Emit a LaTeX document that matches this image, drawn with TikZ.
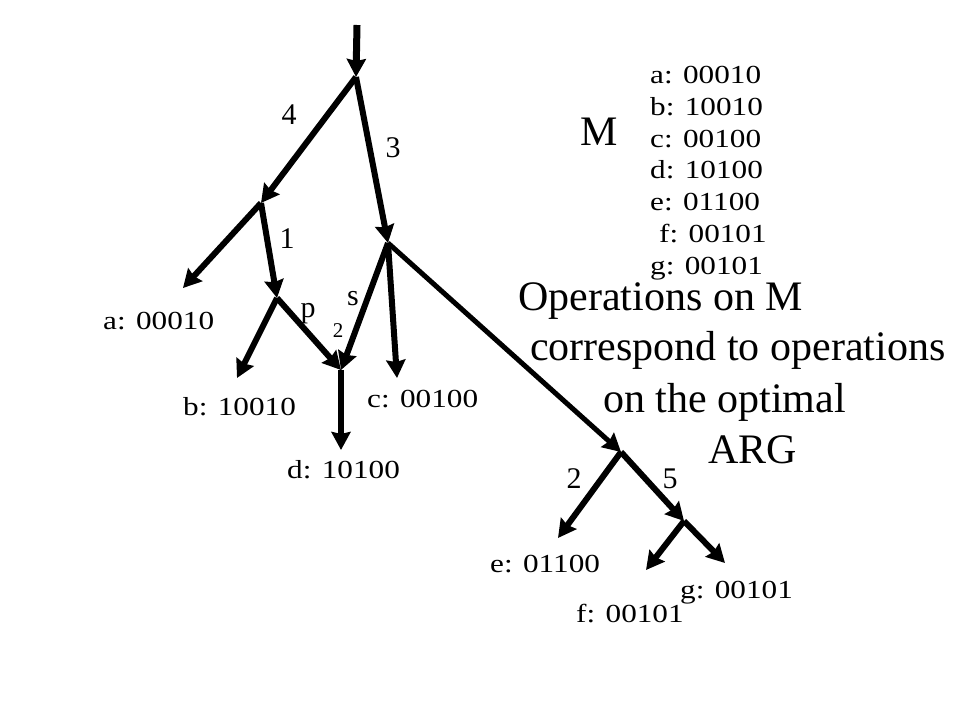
\documentclass[tikz,border=0pt]{standalone}
\usepackage{fontspec}
\setmainfont{Liberation Serif}
\usepackage{graphicx}
\usetikzlibrary{arrows.meta}
\newcommand{\stretchtxt}[1]{\scalebox{1.2}[1]{#1}}
\tikzset{
  edge/.style={line width=6pt,-{Stealth[length=18pt,width=19pt,inset=2pt]}},
  lbl/.style={font=\fontsize{30}{30}\selectfont,anchor=base,inner sep=0pt},
  smalllbl/.style={font=\fontsize{21}{21}\selectfont,anchor=base,inner sep=0pt},
  leaf/.style={font=\fontsize{26}{26}\selectfont,anchor=base west,inner sep=0pt,text height=0.7em,text depth=0.2em},
  big/.style={font=\fontsize{42}{42}\selectfont,anchor=base west,inner sep=0pt,text height=0.68em,text depth=0.2em},
}
\begin{document}
\begin{tikzpicture}[x=1pt,y=-1pt]
\useasboundingbox (0,0) rectangle (960,720);
% tree points
\coordinate (top) at (357,25);
\coordinate (R) at (356,77);
\coordinate (L1) at (261,203);
\coordinate (R1) at (388,243);
\coordinate (P) at (277,298);
\coordinate (D) at (341,370);
\coordinate (E) at (621,452);
\coordinate (F) at (684,521);
\coordinate (ta) at (183,288);
\coordinate (tb) at (237,378);
\coordinate (tc) at (397,378);
\coordinate (td) at (341,450);
\coordinate (te) at (558,538);
\coordinate (tf) at (646,570);
\coordinate (tg) at (725,563);
% connectors
\draw[edge,line width=7pt] (top) -- (R);
\draw[edge] (R) -- (L1);
\draw[edge] (R) -- (R1);
\draw[edge] (L1) -- (ta);
\draw[edge] (L1) -- (P);
\draw[edge] (P) -- (tb);
\draw[edge] (P) -- (D);
\draw[edge] (R1) -- (D);
\draw[edge] (R1) -- (tc);
\draw[edge,line width=5pt] (R1) -- (E);
\draw[edge] (D) -- (td);
\draw[edge] (E) -- (te);
\draw[edge] (E) -- (F);
\draw[edge] (F) -- (tf);
\draw[edge] (F) -- (tg);
% edge labels
\node[lbl] (n4) at (289,124) {4};
\node[lbl] (n3) at (393,157) {3};
\node[lbl] (n1) at (287,248) {1};
\node[lbl] (np) at (308,317) {p};
\node[lbl] (ns) at (353,305) {s};
\node[smalllbl] (n2s) at (338,337) {2};
\node[lbl] (n2) at (574,488) {2};
\node[lbl] (n5) at (670,488) {5};
% leaf labels
\node[leaf] (la) at (103,329) {\stretchtxt{a: 00010}};
\node[leaf] (lb) at (183,415) {\stretchtxt{b: 10010}};
\node[leaf] (lc) at (367,407) {\stretchtxt{c: 00100}};
\node[leaf] (ld) at (287,478) {\stretchtxt{d: 10100}};
\node[leaf] (le) at (490,572) {\stretchtxt{e: 01100}};
\node[leaf] (lf) at (576,622) {\stretchtxt{f: 00101}};
\node[leaf] (lg) at (680,598) {\stretchtxt{g: 00101}};
% matrix M
\node[big] (M) at (580,145) {M};
\node[leaf] (ma) at (650,83) {\stretchtxt{a: 00010}};
\node[leaf] (mb) at (650,115) {\stretchtxt{b: 10010}};
\node[leaf] (mc) at (650,147) {\stretchtxt{c: 00100}};
\node[leaf] (md) at (650,178) {\stretchtxt{d: 10100}};
\node[leaf] (me) at (650,210) {\stretchtxt{e: 01100}};
\node[leaf] (mf) at (659,242) {\stretchtxt{f: 00101}};
\node[leaf] (mg) at (650,274) {\stretchtxt{g: 00101}};
% caption text
\node[big] (t1) at (518,310) {Operations on M};
\node[big] (t2) at (530,360) {correspond to operations};
\node[big] (t3) at (603,412) {on the optimal};
\node[big] (t4) at (708,463) {ARG};
\end{tikzpicture}
\end{document}
